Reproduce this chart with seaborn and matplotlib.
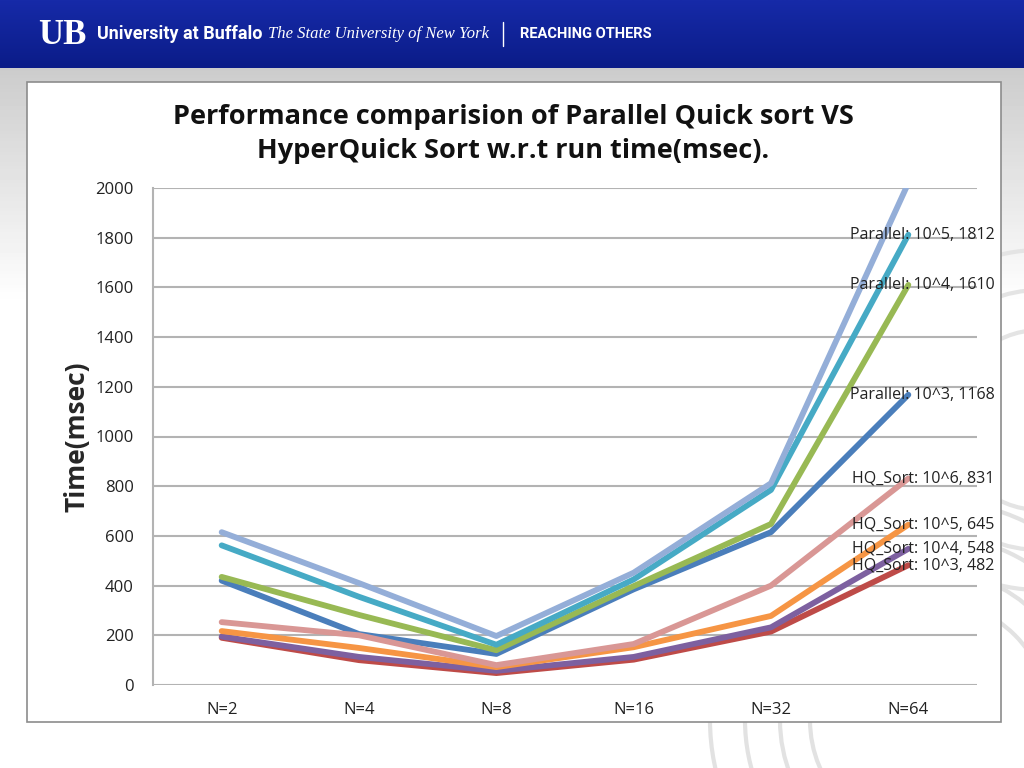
import numpy as np
import pandas as pd
import seaborn as sns
import matplotlib.pyplot as plt
from matplotlib.patches import Rectangle, Circle

# dados
categories = ['N=2', 'N=4', 'N=8', 'N=16', 'N=32', 'N=64']
par_1e3 = [420, 205, 125, 385, 615, 1168]
hq_1e3 = [190, 100, 48, 102, 215, 482]
par_1e4 = [435, 282, 140, 398, 648, 1610]
hq_1e4 = [195, 113, 57, 113, 232, 548]
par_1e5 = [562, 355, 162, 425, 785, 1812]
hq_1e5 = [217, 149, 72, 152, 278, 645]
par_1e6 = [615, 410, 197, 452, 812, 2020]
hq_1e6 = [253, 200, 80, 165, 400, 831]

series_names = ['Parallel: 10^3', 'HQ_Sort: 10^3', 'Parallel: 10^4', 'HQ_Sort: 10^4',
                'Parallel: 10^5', 'HQ_Sort: 10^5', 'Parallel: 10^6', 'HQ_Sort: 10^6']
series_values = [par_1e3, hq_1e3, par_1e4, hq_1e4, par_1e5, hq_1e5, par_1e6, hq_1e6]
colors = ['#4A7EBB', '#BE4B48', '#98B954', '#7D60A0',
          '#46AAC5', '#F69544', '#94AED8', '#D99795']
# series com rotulo no ultimo ponto
labeled = ['Parallel: 10^5', 'Parallel: 10^4', 'Parallel: 10^3',
           'HQ_Sort: 10^6', 'HQ_Sort: 10^5', 'HQ_Sort: 10^4', 'HQ_Sort: 10^3']

df = pd.DataFrame([
    {'N': c, 'time': v, 'serie': name}
    for name, vals in zip(series_names, series_values)
    for c, v in zip(categories, vals)
])

sns.set_theme(style='white')
plt.rcParams['font.family'] = ['Open Sans', 'DejaVu Sans']

fig = plt.figure(figsize=(10.24, 7.68), dpi=100)

# fundo do slide
bg = fig.add_axes([0, 0, 1, 1], zorder=-10)
bg.set_xlim(0, 1024)
bg.set_ylim(768, 0)
bg.axis('off')
grad = np.linspace(0, 1, 200)[:, None]
grad = np.clip(grad * 3.0, 0, 1)
bg.imshow(0.80 + 0.20 * grad, cmap='gray', vmin=0, vmax=1, aspect='auto',
          extent=[0, 1024, 768, 68])
# marca d'agua (selo)
for r in [120, 150, 185, 220]:
    bg.add_patch(Circle((930, 720), r, fill=False, ec='#e2e2e2', lw=3))
for r in [90, 130, 170]:
    bg.add_patch(Circle((1040, 420), r, fill=False, ec='#e4e4e4', lw=3))

# faixa azul do topo
band = np.linspace(0, 1, 50)[:, None]
top = np.array([0x16, 0x2A, 0xA8]) / 255
bot = np.array([0x0B, 0x1C, 0x88]) / 255
band_img = top + (bot - top) * band[:, :, None]
band_img = np.repeat(band_img, 2, axis=1)
bg.imshow(band_img, aspect='auto', extent=[0, 1024, 68, 0])
bg.text(62, 36, 'UB', color='white', fontsize=25, fontweight='bold',
        family='Liberation Serif', ha='center', va='center')
bg.text(97, 34, 'University at Buffalo', color='white', fontsize=13,
        fontweight='bold', family='Roboto', va='center')
bg.text(268, 34, 'The State University of New York', color='white', fontsize=12,
        style='italic', family='Liberation Serif', va='center')
bg.plot([503, 503], [22, 46], color='white', lw=1)
bg.text(520, 34, 'REACHING OTHERS', color='white', fontsize=10.5,
        fontweight='bold', family='Roboto', va='center')

# caixa branca do grafico
fig.patches.append(Rectangle((27 / 1024, 1 - 722 / 768), 974 / 1024, 640 / 768,
                             transform=fig.transFigure, facecolor='white',
                             edgecolor='#8c8c8c', lw=1.2, zorder=-5))

ax = fig.add_axes([153 / 1024, 1 - 685 / 768, 824 / 1024, 497 / 768])
ax.set_facecolor('none')
sns.lineplot(data=df, x='N', y='time', hue='serie', hue_order=series_names,
             palette=dict(zip(series_names, colors)), linewidth=4.2,
             legend=False, sort=False, ax=ax, solid_joinstyle='round',
             solid_capstyle='round')

ax.set_xlim(-0.5, 5.5)
ax.set_ylim(0, 2000)
ax.set_yticks(range(0, 2001, 200))
ax.yaxis.grid(True, color='#b3b3b3', lw=1.5)
ax.set_axisbelow(True)
for s in ['top', 'right', 'bottom']:
    ax.spines[s].set_visible(False)
ax.spines['left'].set_color('#b3b3b3')
ax.spines['left'].set_linewidth(1.5)
ax.tick_params(axis='both', length=0, labelsize=12, colors='#222222')
ax.tick_params(axis='y', pad=14)
ax.tick_params(axis='x', pad=12)
ax.set_xlabel('')
ax.set_ylabel('Time(msec)', fontsize=19, fontweight='bold')
ax.yaxis.set_label_coords(-0.076, 0.5)

# rotulos de dados
for name, vals in zip(series_names, series_values):
    if name in labeled:
        ax.text(5.63, vals[-1], f'{name}, {vals[-1]}', ha='right', va='center',
                fontsize=11.5, color='#222222', clip_on=False)

fig.text(513 / 1024, 1 - 134 / 768,
         'Performance comparision of Parallel Quick sort VS\nHyperQuick Sort w.r.t run time(msec).',
         ha='center', va='center', fontsize=19.5, fontweight='bold',
         linespacing=1.4, color='#111111')

fig.savefig('out.png', dpi=100)
